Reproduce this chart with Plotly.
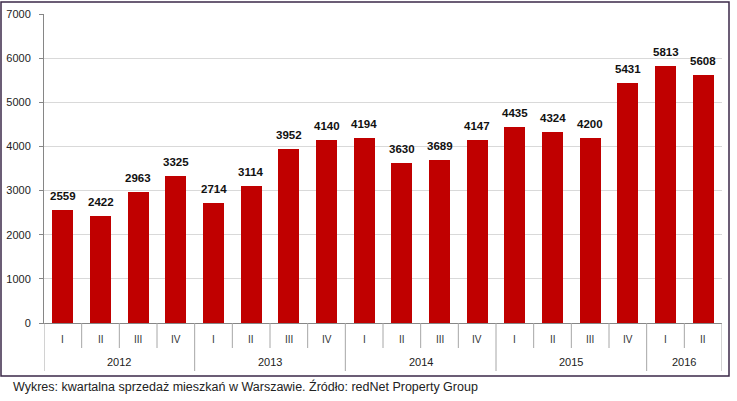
import plotly.graph_objects as go

years = ["2012", "2013", "2014", "2015", "2016"]
quarters_per_year = [4, 4, 4, 4, 2]
quarter_names = ["I", "II", "III", "IV"]
sales = [2559, 2422, 2963, 3325, 2714, 3114, 3952, 4140, 4194, 3630, 3689, 4147,
         4435, 4324, 4200, 5431, 5813, 5608]
y_ticks = [0, 1000, 2000, 3000, 4000, 5000, 6000, 7000]
caption = "Wykres: kwartalna sprzedaż mieszkań w Warszawie. Źródło: redNet Property Group"

W, H = 737, 401
L, R, T, B = 44, 15, 14, 78
PW, PH = W - L - R, H - T - B

def px_x(p):
    return (p - L) / PW

def px_y(p):
    return (H - B - p) / PH

quarters = []
for n in quarters_per_year:
    quarters += quarter_names[:n]
xs = list(range(len(sales)))

font = "Liberation Sans"
fig = go.Figure()
fig.add_trace(go.Bar(x=xs, y=sales, width=0.56, marker=dict(color="#C00000", line=dict(width=0)),
                     hoverinfo="skip"))

shapes = []
annotations = []
for i, v in zip(xs, sales):
    annotations.append(dict(x=i, y=v, xref="x", yref="y", text=f"<b>{v}</b>", showarrow=False,
                            yanchor="middle", yshift=14, font=dict(family=font, size=11.5, color="#111")))
    annotations.append(dict(x=i, y=px_y(339), xref="x", yref="paper", text=quarters[i], showarrow=False,
                            yanchor="middle", font=dict(family=font, size=10, color="#333")))

year_bounds = [0]
for n in quarters_per_year:
    year_bounds.append(year_bounds[-1] + n)
for b in range(len(sales) + 1):
    bottom = px_y(371) if b in year_bounds else px_y(348)
    shapes.append(dict(type="line", xref="x", yref="paper", x0=b - 0.5, x1=b - 0.5, y0=0, y1=bottom,
                       line=dict(color="#a6a6a6", width=1)))
for k, yr in enumerate(years):
    c = (year_bounds[k] + year_bounds[k + 1] - 1) / 2
    annotations.append(dict(x=c, y=px_y(362), xref="x", yref="paper", text=yr, showarrow=False,
                            yanchor="middle", font=dict(family=font, size=11, color="#222")))

annotations.append(dict(x=px_x(11), y=px_y(386), xref="paper", yref="paper", text=caption,
                        showarrow=False, xanchor="left", yanchor="middle",
                        font=dict(family=font, size=12.5, color="#222")))

shapes.append(dict(type="rect", xref="paper", yref="paper", x0=px_x(1), x1=px_x(729),
                   y0=px_y(376), y1=px_y(2), line=dict(color="#3b2948", width=1.5)))

fig.update_layout(
    width=W, height=H, margin=dict(l=L, r=R, t=T, b=B),
    paper_bgcolor="white", plot_bgcolor="white", showlegend=False,
    shapes=shapes, annotations=annotations, bargap=0,
    xaxis=dict(range=[-0.5, len(sales) - 0.5], showticklabels=False, ticks="", showgrid=False,
               zeroline=False, showline=True, linecolor="#868686", linewidth=1, fixedrange=True,
               automargin=False),
    yaxis=dict(range=[0, 7000], tickvals=y_ticks, showgrid=True, gridcolor="#d9d9d9", gridwidth=1,
               zeroline=False, showline=True, linecolor="#868686", linewidth=1, ticks="outside",
               ticklen=4, tickcolor="#868686", tickfont=dict(family=font, size=11, color="#222"),
               ticklabelstandoff=6, fixedrange=True, automargin=False),
)
fig.write_html("out.html", config={"displayModeBar": False},
               post_script="document.body.style.margin='0px';document.body.style.overflow='hidden';")
